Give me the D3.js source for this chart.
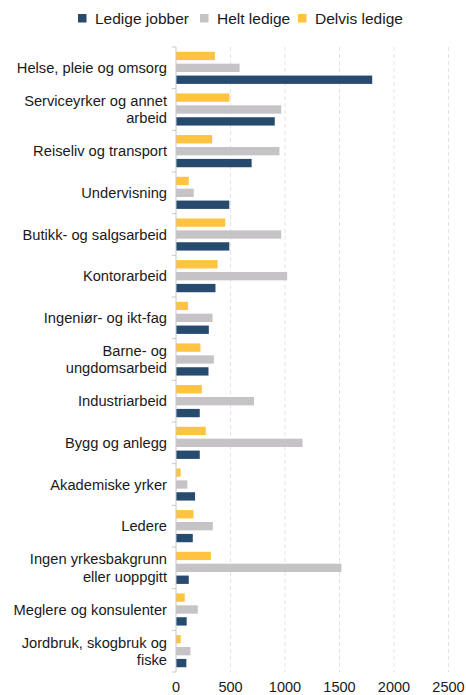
<!DOCTYPE html>
<html lang="no">
<head>
<meta charset="UTF-8">
<title>Ledige jobber og ledige per yrke</title>
<script src="https://cdn.jsdelivr.net/npm/d3@7/dist/d3.min.js"></script>
<style>
  body { margin: 0; background: #fff; }
  text { font-family: "Liberation Sans", Arial, sans-serif; }
</style>
</head>
<body>
<svg id="main" width="466" height="695"></svg>
<script>
    // data
    const categories = [
        ["Helse, pleie og omsorg"],
        ["Serviceyrker og annet", "arbeid"],
        ["Reiseliv og transport"],
        ["Undervisning"],
        ["Butikk- og salgsarbeid"],
        ["Kontorarbeid"],
        ["Ingeniør- og ikt-fag"],
        ["Barne- og", "ungdomsarbeid"],
        ["Industriarbeid"],
        ["Bygg og anlegg"],
        ["Akademiske yrker"],
        ["Ledere"],
        ["Ingen yrkesbakgrunn", "eller uoppgitt"],
        ["Meglere og konsulenter"],
        ["Jordbruk, skogbruk og", "fiske"]
    ];
    const delvisLedige = [357, 491, 332, 117, 452, 381, 111, 224, 237, 273, 43, 160, 320, 80, 43];
    const heltLedige = [584, 965, 949, 163, 965, 1020, 335, 347, 716, 1161, 104, 338, 1518, 200, 132];
    const ledigeJobber = [1800, 906, 694, 489, 489, 362, 301, 298, 218, 218, 175, 154, 117, 98, 95];
    const xTicks = [0, 500, 1000, 1500, 2000, 2500];

    const series = [
        { key: "delvis", name: "Delvis ledige", color: "#fec340", values: delvisLedige },
        { key: "helt", name: "Helt ledige", color: "#c5c3c6", values: heltLedige },
        { key: "jobber", name: "Ledige jobber", color: "#264b6e", values: ledigeJobber }
    ];
    const legendOrder = ["jobber", "helt", "delvis"];

    const svg = d3.select("#main");
    const plotLeft = 176, plotRight = 448.5, plotTop = 47, plotBottom = 672;

    const x = d3.scaleLinear().domain([0, 2500]).range([plotLeft, plotRight]);
    const y = d3.scaleBand().domain(d3.range(categories.length)).range([plotTop, plotBottom]);
    const ySub = d3.scaleBand().domain(series.map(s => s.key))
        .range([0, y.bandwidth()]).paddingInner(0.3).paddingOuter(0.4);

    // grid
    svg.append("g").selectAll("line")
        .data(xTicks.slice(1))
        .join("line")
        .attr("x1", d => x(d)).attr("x2", d => x(d))
        .attr("y1", plotTop).attr("y2", plotBottom)
        .attr("stroke", "#e3e3e3")
        .attr("stroke-dasharray", "4,3");

    // bars
    categories.forEach((c, i) => {
        series.forEach(s => {
            svg.append("rect")
                .attr("x", x(0))
                .attr("y", y(i) + ySub(s.key))
                .attr("width", x(s.values[i]) - x(0))
                .attr("height", ySub.bandwidth())
                .attr("fill", s.color);
        });
    });

    // left axis line and category ticks
    svg.append("line")
        .attr("x1", plotLeft).attr("x2", plotLeft)
        .attr("y1", plotTop).attr("y2", plotBottom)
        .attr("stroke", "#c8c8c8");
    svg.append("g").selectAll("line")
        .data(d3.range(categories.length + 1))
        .join("line")
        .attr("x1", plotLeft - 4).attr("x2", plotLeft)
        .attr("y1", d => plotTop + d * y.step()).attr("y2", d => plotTop + d * y.step())
        .attr("stroke", "#c8c8c8");

    // category labels
    categories.forEach((lines, i) => {
        const cy = y(i) + y.bandwidth() / 2;
        const lh = 17.5;
        const t = svg.append("text")
            .attr("text-anchor", "end")
            .attr("font-size", 14.7)
            .attr("fill", "#1a1a1a");
        lines.forEach((ln, j) => {
            t.append("tspan")
                .attr("x", 167)
                .attr("y", cy + (j - (lines.length - 1) / 2) * lh)
                .attr("dy", "0.35em")
                .text(ln);
        });
    });

    // x tick labels
    svg.append("g").selectAll("text")
        .data(xTicks)
        .join("text")
        .attr("x", d => x(d))
        .attr("y", 687)
        .attr("dy", "0.35em")
        .attr("text-anchor", "middle")
        .attr("font-size", 14.5)
        .attr("fill", "#1a1a1a")
        .text(d => d);

    // legend
    const legendItems = legendOrder.map(k => series.find(s => s.key === k));
    const lx = [78, 200, 298];
    legendItems.forEach((s, i) => {
        svg.append("rect")
            .attr("x", lx[i]).attr("y", 14)
            .attr("width", 8.5).attr("height", 8.5)
            .attr("fill", s.color);
        svg.append("text")
            .attr("x", lx[i] + 17).attr("y", 19)
            .attr("dy", "0.35em")
            .attr("font-size", 15.5)
            .attr("fill", "#1a1a1a")
            .text(s.name);
    });
</script>
</body>
</html>
